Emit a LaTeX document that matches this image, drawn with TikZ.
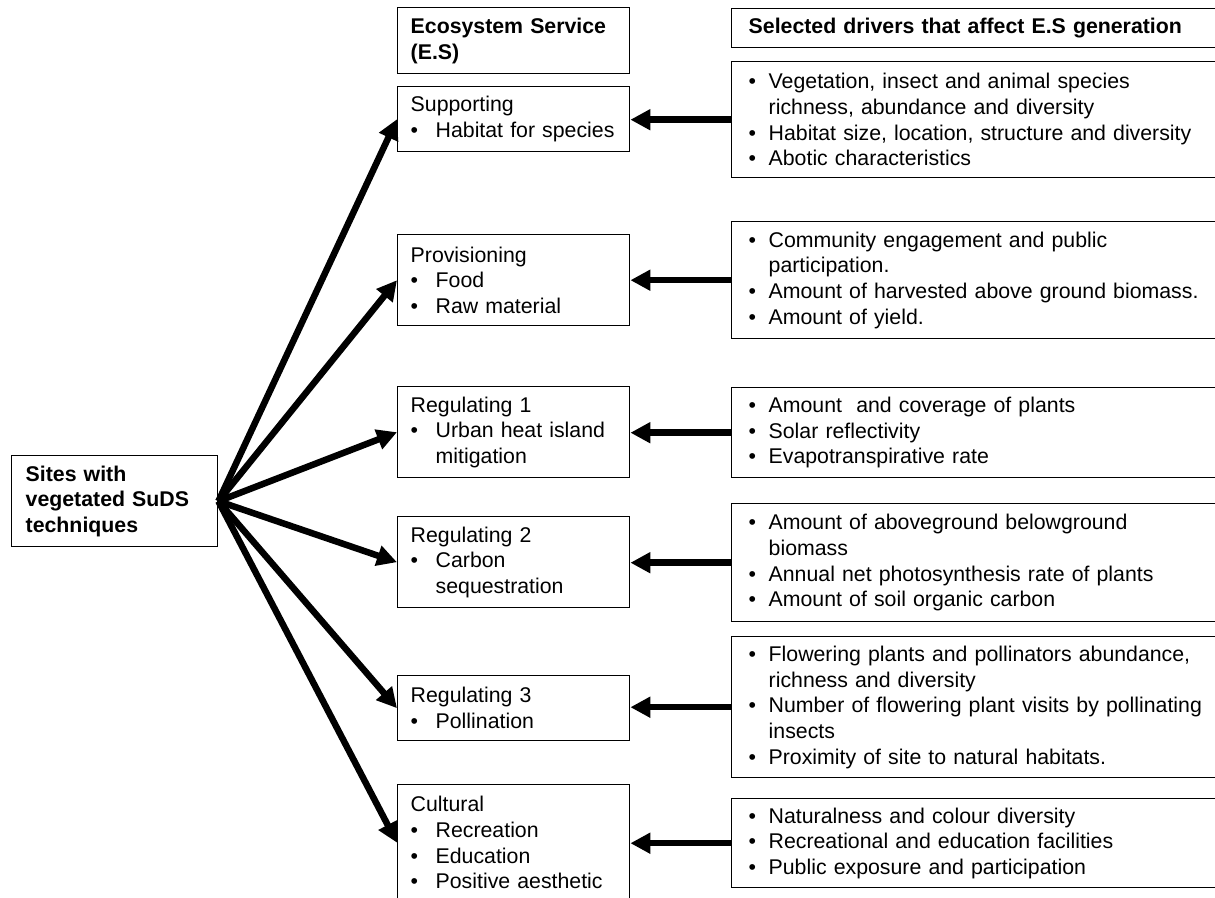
\documentclass[tikz,border=0pt]{standalone}
\usepackage{fontspec}
\setmainfont{Liberation Sans}
\usetikzlibrary{arrows.meta}
\newcommand{\ei}{\makebox[25pt][l]{•}}
\newcommand{\ec}{\hspace*{25pt}}
\newcommand{\di}{\makebox[20pt][l]{•}}
\newcommand{\dc}{\hspace*{20pt}}
\newcommand{\bodyfont}{\fontsize{21.3}{25.7}\selectfont}
\tikzset{
  base/.style={draw=black, line width=1.4pt, anchor=north west, inner ysep=0pt,
    align=left, font=\bodyfont},
  esbox/.style={base, inner xsep=13pt, text width=206pt, minimum width=232pt},
  drbox/.style={base, inner xsep=17pt, text width=466pt, minimum width=500pt},
  sitebox/.style={base, inner xsep=14pt, text width=178pt, minimum width=206pt},
  bold/.style={font=\bodyfont\bfseries},
  arr/.style={line width=6.5pt, -{Triangle[length=20pt,width=20pt]}},
}
\begin{document}
\begin{tikzpicture}[x=1pt,y=-1pt]
\clip (0,0) rectangle (1215,897);
\fill[white] (0,0) rectangle (1215,897);

\node[sitebox, bold, minimum height=91pt] (site) at (11,455) {Sites with\\vegetated SuDS\\techniques};

\node[esbox, bold, minimum height=66pt] (esh) at (397,7) {Ecosystem Service\\(E.S)};
\node[drbox, bold, minimum height=39pt] (drh) at (731,8) {Selected drivers that affect E.S generation};

\node[esbox, minimum height=65pt] (sup) at (397,86) {Supporting\\\ei Habitat for species};
\node[esbox, minimum height=91pt] (prov) at (397,234) {Provisioning\\\ei Food\\\ei Raw material};
\node[esbox, minimum height=91pt] (reg1) at (397,386) {Regulating 1\\\ei Urban heat island\\\ec mitigation};
\node[esbox, minimum height=91pt] (reg2) at (397,516) {Regulating 2\\\ei Carbon\\\ec sequestration};
\node[esbox, minimum height=65pt] (reg3) at (397,675) {Regulating 3\\\ei Pollination};
\node[esbox, minimum height=116pt] (cul) at (397,784) {Cultural\\\ei Recreation\\\ei Education\\\ei Positive aesthetic};

\node[drbox, minimum height=116pt] (d1) at (731,61) {\di Vegetation, insect and animal species\\\dc richness, abundance and diversity\\\di Habitat size, location, structure and diversity\\\di Abotic characteristics};
\node[drbox, minimum height=117pt] (d2) at (731,221) {\di Community engagement and public\\\dc participation.\\\di Amount of harvested above ground biomass.\\\di Amount of yield.};
\node[drbox, minimum height=90pt] (d3) at (731,387) {\di Amount~ and coverage of plants\\\di Solar reflectivity\\\di Evapotranspirative rate};
\node[drbox, minimum height=118pt] (d4) at (731,503) {\di Amount of aboveground belowground\\\dc biomass\\\di Annual net photosynthesis rate of plants\\\di Amount of soil organic carbon};
\node[drbox, minimum height=141pt] (d5) at (731,636) {\di Flowering plants and pollinators abundance,\\\dc richness and diversity\\\di Number of flowering plant visits by pollinating\\\dc insects\\\di Proximity of site to natural habitats.};
\node[drbox, minimum height=89pt] (d6) at (731,798) {\di Naturalness and colour diversity\\\di Recreational and education facilities\\\di Public exposure and participation};

\draw[arr] (site.east) -- (sup.west);
\draw[arr] (site.east) -- (prov.west);
\draw[arr] (site.east) -- (reg1.west);
\draw[arr] (site.east) -- (reg2.west);
\draw[arr] (site.east) -- (reg3.west);
\draw[arr] (site.east) -- (cul.west);

\draw[arr] (d1.west) -- (d1.west -| sup.east);
\draw[arr] (d2.west) -- (d2.west -| prov.east);
\draw[arr] (d3.west) -- (d3.west -| reg1.east);
\draw[arr] (d4.west) -- (d4.west -| reg2.east);
\draw[arr] (d5.west) -- (d5.west -| reg3.east);
\draw[arr] (d6.west) -- (d6.west -| cul.east);
\end{tikzpicture}
\end{document}
